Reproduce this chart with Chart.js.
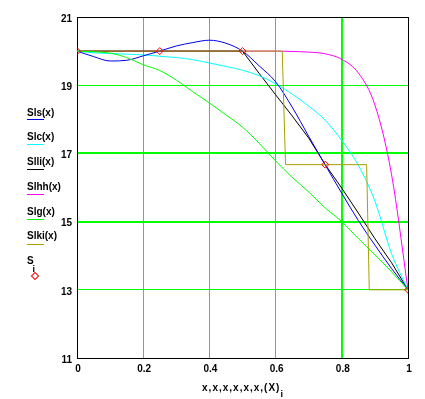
<!DOCTYPE html>
<html>
<head>
<meta charset="utf-8">
<script src="https://cdn.jsdelivr.net/npm/chart.js@4/dist/chart.umd.min.js"></script>
<style>
  html, body { margin: 0; padding: 0; background: #fff; }
  #wrap { position: relative; width: 425px; height: 399px; overflow: hidden; }
  #chart { position: absolute; left: 0; top: 0; }
  .txt { position: absolute; font: bold 10px 'Liberation Sans', Arial, sans-serif; line-height: 10px; color: #000; white-space: nowrap; }
  .sw { position: absolute; left: 27px; width: 17px; height: 1px; }
  .dia { position: absolute; width: 4px; height: 4px; border: 1px solid #ff0000; transform: rotate(45deg); }
  #xtitle { left: 77px; width: 331px; text-align: center; top: 383px; letter-spacing: 1px; }
  #xtitle span { position: relative; top: 6px; font-size: 9px; letter-spacing: 0; }
</style>
</head>
<body>
<div id="wrap">
  <canvas id="chart" width="425" height="399"></canvas>
  <div id="legend"></div>
  <div class="txt" id="xtitle">x,x,x,x,x,x,(X)<span>i</span></div>
</div>
<script>
const xGrid = [0, 0.05, 0.1, 0.15, 0.2, 0.25, 0.3, 0.35, 0.4, 0.45, 0.5,
               0.55, 0.6, 0.65, 0.7, 0.75, 0.8, 0.85, 0.9, 0.95, 1];

const slsY  = [20, 19.84, 19.71, 19.73, 19.86, 20, 20.15, 20.25, 20.32, 20.23, 20,
               19.57, 19.1, 18.36, 17.5, 16.66, 15.83, 15.03, 14.31, 13.63, 13];
const slcY  = [20, 19.95, 19.93, 19.91, 19.89, 19.85, 19.81, 19.75, 19.65, 19.55, 19.44,
               19.28, 19.04, 18.74, 18.39, 17.97, 17.38, 16.65, 15.6, 14.07, 13];
const slliY = [20, 20, 20, 20, 20, 20, 20, 20, 20, 20, 20,
               19.35, 18.72, 18.1, 17.45, 16.67, 15.98, 15.25, 14.5, 13.8, 13];
const slhhY = [20, 20, 20, 20, 20, 20, 20, 20, 20, 20, 20,
               20, 20, 19.99, 19.97, 19.92, 19.76, 19.36, 18.42, 16.4, 13];
const slgY  = [20, 19.98, 19.94, 19.81, 19.6, 19.43, 19.15, 18.81, 18.48, 18.13, 17.77,
               17.3, 16.78, 16.3, 15.87, 15.4, 15.0, 14.5, 14.03, 13.53, 13];

// step curve
const slkiX = [0, 0.62, 0.63, 0.875, 0.883, 1];
const slkiY = [20, 20, 16.67, 16.67, 13, 13];

// data points S_i
const sX = [0, 0.25, 0.5, 0.75, 1];
const sY = [20, 20, 20, 16.67, 13];

const xTicks = [0, 0.2, 0.4, 0.6, 0.8, 1];
const xTickLabels = ['0', '0.2', '0.4', '0.6', '0.8', '1'];
const yTicks = [11, 13, 15, 17, 19, 21];
const yTickLabels = ['11', '13', '15', '17', '19', '21'];

const legendNames = ['Sls(x)', 'Slc(x)', 'Slli(x)', 'Slhh(x)', 'Slg(x)', 'Slki(x)'];
const legendColors = ['#0000e6', '#00ffff', '#000000', '#ff00ff', '#00ff00', '#aaa000'];

function pts(xs, ys) {
  return xs.map((x, i) => ({ x: x, y: ys[i] }));
}

function curve(label, xs, ys, color, smooth) {
  return {
    label: label,
    data: pts(xs, ys),
    showLine: true,
    borderColor: color,
    backgroundColor: color,
    borderWidth: 1,
    pointRadius: 0,
    tension: 0,
    cubicInterpolationMode: smooth ? 'monotone' : 'default',
    fill: false
  };
}

// legend at the left, as plain text
let html = '';
legendNames.forEach((name, i) => {
  html += '<div class="txt" style="left:27px;top:' + (107.7 + i * 24.7).toFixed(1) + 'px">' + name + '</div>';
  html += '<div class="sw" style="top:' + (119 + i * 24.9).toFixed(1) + 'px;background:' + legendColors[i] + '"></div>';
});
html += '<div class="txt" style="left:27px;top:256px">S</div>';
html += '<div class="txt" style="left:32.5px;top:263.5px;font-size:9px">i</div>';
html += '<div class="dia" style="left:32px;top:272.7px"></div>';
document.getElementById('legend').innerHTML = html;

const tickFont = { family: "'Liberation Sans', Arial, sans-serif", size: 10, weight: 'bold' };

new Chart(document.getElementById('chart'), {
  type: 'scatter',
  data: {
    datasets: [
      {
        label: 'S',
        data: pts(sX, sY),
        showLine: false,
        pointStyle: 'rectRot',
        pointRadius: 3.5,
        pointBorderWidth: 1,
        pointBorderColor: '#ff0000',
        pointBackgroundColor: 'rgba(0,0,0,0)'
      },
      curve('Slg', xGrid, slgY, legendColors[4], true),
      curve('Slki', slkiX, slkiY, legendColors[5], false),
      curve('Sls', xGrid, slsY, legendColors[0], true),
      curve('Slc', xGrid, slcY, legendColors[1], true),
      curve('Slli', xGrid, slliY, legendColors[2], false),
      curve('Slhh', xGrid, slhhY, legendColors[3], true)
    ]
  },
  options: {
    responsive: false,
    animation: false,
    devicePixelRatio: 1,
    layout: { padding: { left: 0, right: 17, top: 17, bottom: 0 } },
    plugins: { legend: { display: false }, tooltip: { enabled: false } },
    scales: {
      x: {
        type: 'linear',
        min: 0,
        max: 1,
        afterFit: s => { s.height = 41; },
        afterBuildTicks: s => { s.ticks = xTicks.map(v => ({ value: v })); },
        grid: {
          color: c => (c.tick && (c.tick.value === 0 || c.tick.value === 1)) ? '#000' : '#00ff00',
          lineWidth: c => (c.tick && c.tick.value === 0.8) ? 2 : 1,
          drawTicks: false
        },
        border: { display: true, color: '#000', width: 1 },
        ticks: {
          color: '#000',
          font: tickFont,
          padding: 5,
          labelOffset: 1,
          maxRotation: 0,
          autoSkip: false,
          callback: (v, i) => xTickLabels[i]
        }
      },
      y: {
        type: 'linear',
        min: 11,
        max: 21,
        afterFit: s => { s.width = 77; },
        afterBuildTicks: s => { s.ticks = yTicks.map(v => ({ value: v })); },
        grid: {
          color: c => (c.tick && (c.tick.value === 11 || c.tick.value === 21)) ? '#000' : '#00ff00',
          lineWidth: c => (c.tick && (c.tick.value === 15 || c.tick.value === 17)) ? 2 : 1,
          drawTicks: false
        },
        border: { display: true, color: '#000', width: 1 },
        ticks: {
          color: '#000',
          font: tickFont,
          padding: 5,
          labelOffset: 2,
          autoSkip: false,
          callback: (v, i) => yTickLabels[i]
        }
      }
    }
  }
});
</script>
</body>
</html>
